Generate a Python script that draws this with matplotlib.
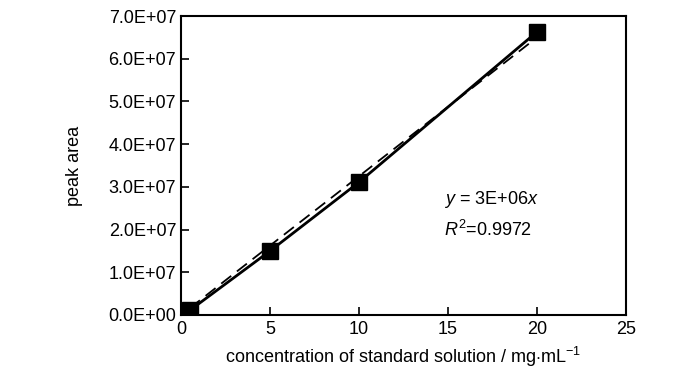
import matplotlib
matplotlib.use("Agg")
import matplotlib.pyplot as plt

plt.rcParams['font.family'] = ['Liberation Sans', 'DejaVu Sans']
plt.rcParams['mathtext.fontset'] = 'custom'
plt.rcParams['mathtext.rm'] = 'Liberation Sans'
plt.rcParams['mathtext.it'] = 'Liberation Sans:italic'

# measured points
conc = [0.5, 5, 10, 20]
area = [1.1e6, 1.5e7, 3.11e7, 6.63e7]

# linear fit through origin
slope = 3.25e6
fit_x = [0.5, 19.6]
fit_y = [slope * x for x in fit_x]

fig = plt.figure(figsize=(7, 3.73), dpi=100)
ax = fig.add_axes([0.2586, 0.1555, 0.6357, 0.8015])

ax.plot(fit_x, fit_y, color='black', lw=1.3, ls=(0, (7, 4)))
ax.plot(conc, area, color='black', lw=2, marker='s', ms=11)

ax.set_xlim(0, 25)
ax.set_ylim(0, 7e7)
ax.set_xticks([0, 5, 10, 15, 20, 25])
ax.set_yticks([i * 1e7 for i in range(8)])
ax.set_yticklabels(['%.1fE+%02d' % (i, 7 if i else 0) for i in range(8)])

ax.tick_params(direction='in', length=6, width=1.2, labelsize=13)
ax.tick_params(axis='x', pad=4)
for s in ax.spines.values():
    s.set_linewidth(1.5)

ax.set_xlabel('concentration of standard solution / mg$\\cdot$mL$^{-1}$', fontsize=13, labelpad=5)
ax.set_ylabel('peak area', fontsize=13, labelpad=18)

ax.text(14.8, 2.6e7, '$y$ = 3E+06$x$', fontsize=13)
ax.text(14.8, 1.85e7, '$R^2$=0.9972', fontsize=13)

fig.savefig('out.png', dpi=100)
